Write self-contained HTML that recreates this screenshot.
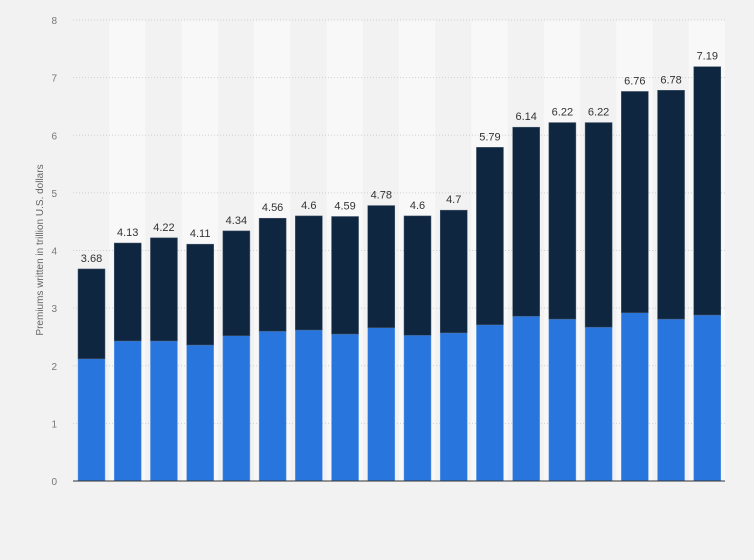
<!DOCTYPE html>
<html><head><meta charset="utf-8"><style>
html,body{margin:0;padding:0;background:#f2f2f2;}
svg{display:block;font-family:"Liberation Sans",sans-serif;}
</style></head><body>
<svg id="chart" width="754" height="560" viewBox="0 0 754 560" xmlns="http://www.w3.org/2000/svg">
<rect x="0" y="0" width="754" height="560" fill="#f2f2f2"/>
<g id="bands"></g>
<g id="grid"></g>
<g id="bars"></g>
<g id="labels"></g>
<text transform="translate(43,250) rotate(-90)" text-anchor="middle" font-size="10" fill="#666">Premiums written in trillion U.S. dollars</text>
<line x1="73" x2="725" y1="481" y2="481" stroke="#333" stroke-width="1"/>
</svg>
<script>
const categories = ["1","2","3","4","5","6","7","8","9","10","11","12","13","14","15","16","17","18"];
const totals = [3.68,4.13,4.22,4.11,4.34,4.56,4.6,4.59,4.78,4.6,4.7,5.79,6.14,6.22,6.22,6.76,6.78,7.19];
const lowerSeries = [2.12,2.43,2.43,2.36,2.52,2.60,2.62,2.55,2.66,2.53,2.57,2.71,2.86,2.81,2.67,2.92,2.81,2.88];
const yTicks = [0,1,2,3,4,5,6,7,8];
const NS="http://www.w3.org/2000/svg";
const x0=73,x1=725,y0=481,yTop=20,yMax=8;
const band=(x1-x0)/categories.length;
const yS=v=>y0-(v/yMax)*(y0-yTop);
const xS=i=>x0+i*band;
function mk(t,a,p){const e=document.createElementNS(NS,t);for(const k in a)e.setAttribute(k,a[k]);p.appendChild(e);return e;}
const gB=document.getElementById('bands'),gG=document.getElementById('grid'),gR=document.getElementById('bars'),gL=document.getElementById('labels');
categories.forEach((c,i)=>{if(i%2===1){const r=mk('rect',{x:xS(i),y:yTop,width:band,height:y0-yTop,fill:'#f8f8f8'},gB);

}});
yTicks.forEach(t=>{const y=yS(t);
if(t>0){const l=mk('line',{x1:x0,x2:x1,y1:y,y2:y,stroke:'#cfcfcf','stroke-dasharray':'1,2'},gG);

}
const tx=mk('text',{x:57,y:y+4,'text-anchor':'end','font-size':'10',fill:'#777'},gG);tx.textContent=t;

});
categories.forEach((c,i)=>{const bx=xS(i)+5,bw=27;
const lo=lowerSeries[i],tot=totals[i];
const r1=mk('rect',{x:bx,y:yS(lo),width:bw,height:y0-yS(lo),fill:'#2876dd',stroke:'#6aa0ea','stroke-width':'0.5'},gR);


const r2=mk('rect',{x:bx,y:yS(tot),width:bw,height:yS(lo)-yS(tot),fill:'#0f2640',stroke:'#4a5a6e','stroke-width':'0.5'},gR);


const t=mk('text',{x:bx+bw/2,y:yS(tot)-7,'text-anchor':'middle','font-size':'11',fill:'#333'},gL);t.textContent=tot;

});
</script>
</body></html>
